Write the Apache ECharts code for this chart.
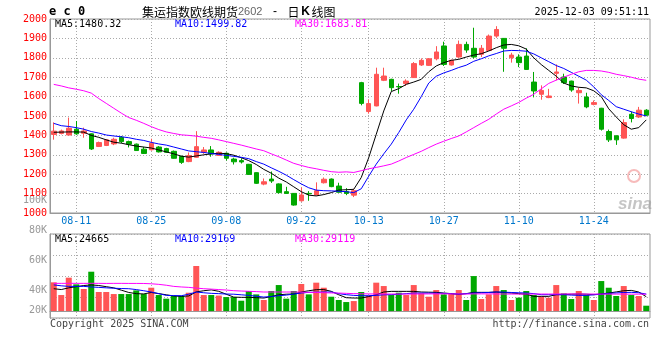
<!DOCTYPE html>
<html><head><meta charset="utf-8">
<script src="https://cdn.jsdelivr.net/npm/echarts@6/dist/echarts.min.js"></script>
<style>html,body{margin:0;padding:0;background:#fff}#c{width:660px;height:360px}</style>
</head><body><div id="c"></div>
<script>
const dates = ['08-06','08-07','08-08','08-11','08-12','08-13','08-14','08-15','08-18','08-19','08-20','08-21','08-22','08-25','08-26','08-27','08-28','08-29',
'09-01','09-02','09-03','09-04','09-05','09-08','09-09','09-10','09-11','09-12','09-15','09-16','09-17','09-18','09-19','09-22','09-23','09-24','09-25','09-26','09-29','09-30',
'10-09','10-10','10-13','10-14','10-15','10-16','10-17','10-20','10-21','10-22','10-23','10-24','10-27','10-28','10-29','10-30','10-31',
'11-03','11-04','11-05','11-06','11-07','11-10','11-11','11-12','11-13','11-14','11-17','11-18','11-19','11-20','11-21','11-24','11-25','11-26','11-27','11-28',
'12-01','12-02','12-03'];
const tickDates = ['08-11','08-25','09-08','09-22','10-13','10-27','11-10','11-24'];

const opens  = [1405,1410,1402,1432,1411,1408,1343,1348,1356,1390,1368,1355,1329,1326,1340,1332,1318,1292,1265,1287,1314,1325,1297,1308,1278,1270,1251,1208,1149,1175,1150,1110,1101,1063,1101,1093,1156,1175,1139,1110,1092,1672,1523,1552,1684,1689,1652,1667,1698,1763,1761,1795,1861,1763,1804,1869,1849,1818,1838,1912,1900,1800,1804,1809,1675,1612,1595,1720,1701,1680,1620,1598,1560,1540,1420,1398,1386,1509,1495,1530];
const closes = [1422,1423,1437,1408,1423,1330,1363,1377,1380,1368,1355,1322,1307,1360,1315,1313,1282,1261,1296,1342,1325,1304,1313,1282,1264,1263,1199,1153,1161,1165,1105,1101,1041,1093,1099,1115,1174,1136,1107,1101,1115,1565,1564,1715,1706,1646,1650,1680,1770,1787,1795,1830,1766,1787,1869,1840,1804,1849,1912,1946,1849,1814,1775,1740,1629,1632,1603,1727,1672,1634,1632,1547,1569,1432,1377,1377,1466,1487,1530,1504];
const lows   = [1378,1405,1400,1403,1388,1325,1340,1345,1350,1360,1338,1320,1305,1322,1312,1310,1280,1253,1262,1285,1305,1290,1295,1270,1250,1255,1197,1150,1143,1155,1100,1098,1038,1058,1063,1092,1152,1133,1105,1092,1082,1555,1512,1550,1680,1629,1615,1655,1696,1758,1758,1787,1758,1760,1800,1826,1796,1804,1836,1903,1728,1775,1752,1738,1596,1584,1592,1684,1665,1625,1564,1540,1555,1425,1366,1351,1383,1467,1490,1500];
const highs  = [1467,1430,1492,1474,1440,1410,1368,1380,1388,1397,1373,1358,1341,1383,1345,1336,1322,1295,1312,1422,1340,1345,1318,1312,1285,1282,1253,1210,1178,1214,1153,1135,1103,1132,1113,1158,1183,1178,1156,1128,1125,1676,1586,1749,1749,1692,1667,1689,1778,1797,1798,1860,1883,1790,1889,1883,1955,1866,1920,1963,1902,1826,1818,1849,1727,1658,1640,1766,1718,1682,1646,1620,1580,1542,1430,1400,1483,1523,1547,1535];

const ma5  = [1416,1417,1418,1418,1417,1400,1390,1377,1365,1360,1352,1345,1340,1335,1325,1315,1305,1293,1288,1294,1300,1305,1308,1306,1298,1285,1270,1250,1225,1205,1180,1160,1135,1110,1092,1088,1095,1105,1118,1120,1122,1183,1286,1406,1526,1626,1641,1663,1675,1689,1728,1758,1775,1787,1792,1804,1814,1821,1835,1852,1866,1869,1862,1845,1800,1765,1735,1705,1670,1655,1648,1645,1630,1600,1537,1495,1455,1432,1440,1480];
const ma10 = [1462,1450,1446,1440,1432,1420,1412,1402,1397,1393,1388,1380,1374,1364,1356,1350,1340,1330,1320,1316,1312,1307,1302,1297,1292,1287,1280,1265,1252,1233,1215,1195,1172,1150,1130,1118,1115,1114,1112,1110,1105,1125,1190,1252,1305,1355,1415,1480,1535,1600,1670,1705,1722,1735,1750,1762,1782,1795,1810,1822,1835,1838,1837,1834,1820,1800,1780,1760,1745,1725,1705,1685,1650,1610,1580,1548,1535,1522,1510,1500];
const ma30 = [1663,1655,1645,1638,1630,1618,1590,1565,1540,1515,1492,1478,1462,1445,1430,1418,1410,1403,1400,1396,1390,1385,1377,1368,1359,1350,1340,1330,1321,1305,1290,1273,1256,1245,1235,1228,1220,1213,1210,1212,1209,1218,1228,1235,1243,1252,1268,1286,1302,1318,1337,1355,1370,1384,1397,1418,1440,1462,1483,1510,1535,1552,1570,1592,1612,1640,1668,1685,1700,1715,1728,1735,1735,1732,1725,1715,1708,1700,1690,1684];

// volume in thousands (K)
const vol = [49.5,27.6,57.5,46,38,67.8,32.8,32.8,29.3,29.3,29.3,35.6,29.3,40.2,27.6,21.3,25.9,25.9,31.6,77.6,27.6,27.6,26.7,24.1,24.1,17.8,34.5,28.7,19.0,34.5,44.8,21.3,34.5,46.6,28.7,48.9,40.2,24.7,19.0,15.5,17.2,32.8,25.9,48.9,43.1,27.6,31.6,27.6,44.8,30.5,24.7,36.2,28.7,30.5,36.2,19.0,60.3,20.7,28.7,43.1,36.2,19.0,23.0,34.5,27.6,24.7,23.0,44.8,30.5,20.7,34.5,27.6,19.0,51.7,40.2,25.9,43.1,27.6,25.9,9.2];
const volMa5  = [38.5,37,40,42,44,45,44,42,40,36,32,30,29.5,32,30,28,26,25.3,26,33,35,36.5,34,29,24,23.6,23.6,23,22.4,25,28,29,29.3,32.8,35,36.8,37,34,28,23,22.4,22.4,25,28,32.8,33.9,33.9,33.9,33.9,32.8,32.5,32.2,31,30,28.5,30,32.2,32.2,32.2,32.8,32,31,30,29,25.3,25.3,25.3,28.2,28.5,29,29.3,29,28.2,29.5,31,33,35,35.6,32.8,24.7];
const volMa10 = [45,43.5,42.5,42.5,42.5,41.5,40.8,40,39.3,38.8,38.5,37,35,32.8,30,27,26.6,26.4,29,32.8,31.5,30.5,30,29.3,29,28,27,25.5,24.1,25,26.4,27.5,29.3,31,32.2,32.5,32.8,32.8,30,28.2,27,26.4,26.5,27,28,28.2,29,30,31,31,31,31,30.5,30,29.3,30,31,31.5,32,32.8,32.5,32,31.5,31,30,28.2,28.2,28.2,28.2,27.5,27,27,28,29,30.5,31.2,32,32.2,31.5,29.2];
const volMa30 = [47.7,47.7,47.8,47.7,47.7,47.8,47.7,47.6,47.7,47.7,47.6,47.6,47.5,47.0,46,44.5,42.5,41.5,40.8,39.5,38.5,37.8,37,36.2,35.1,34.5,34,33.5,32.8,32.8,32.8,32.8,32.8,32.6,32.2,32,31.6,31.2,31,30.5,30,29.8,29.5,29.5,29.3,29.3,29.3,29.3,29.3,29.5,29.5,29.6,29.6,29.5,29.3,29.3,29.5,29.6,29.6,29.5,29.3,29.3,29.2,29.3,29.3,29.3,29.3,29.3,29.5,29.5,29.5,29.3,29.3,29.2,29.2,29.2,29.2,29.1,29.1,29.1];

const priceTicks = { min: 1000, max: 2000, step: 100 };
const volAxisLabels = ['100K','80K','60K','40K','20K'];
const maText = ['MA5:1480.32','MA10:1499.82','MA30:1683.81'];
const volMaText = ['MA5:24665','MA10:29169','MA30:29119'];

const UP = '#ff5555', DOWN = '#00a800';
const MONO = '"DejaVu Sans Mono","Liberation Mono",monospace';
const GRID = '#aaaaaa';
const isTick = (i) => tickDates.indexOf(dates[i]) >= 0;

const candles = dates.map((d, i) => [opens[i], closes[i], lows[i], highs[i]]);
const volData = vol.map((v, i) => ({ value: v, itemStyle: { color: closes[i] >= opens[i] ? UP : DOWN } }));

function lineSeries(data, color, xi, yi) {
  return { type: 'line', data, xAxisIndex: xi, yAxisIndex: yi, symbol: 'none', silent: true, z: 5,
    lineStyle: { color, width: 1 }, itemStyle: { color } };
}
const splitX = { show: true, interval: (i) => isTick(i), alignWithLabel: true, lineStyle: { color: GRID, type: [1, 2], width: 1 } };

const chart = echarts.init(document.getElementById('c'), null, { renderer: 'canvas' });
const txt = (x, y, text, fill, align, extra) => Object.assign({ type: 'text', x, y, silent: true,
  style: Object.assign({ text, fill, font: '10px ' + MONO, textAlign: align || 'left', textVerticalAlign: 'middle' }, extra || {}) });

chart.setOption({
  animation: false,
  backgroundColor: '#fff',
  grid: [
    { left: 50, right: 10, top: 19, height: 194, show: true, borderColor: '#999', borderWidth: 1 },
    { left: 50, right: 10, top: 234, height: 84, show: true, borderColor: '#999', borderWidth: 1 }
  ],
  xAxis: [
    { type: 'category', gridIndex: 0, data: dates, boundaryGap: true,
      axisLine: { show: true, lineStyle: { color: '#999' } }, axisTick: { show: false },
      axisLabel: { interval: (i) => isTick(i), color: '#0077cc', fontFamily: MONO, fontSize: 10, margin: 3 },
      splitLine: splitX },
    { type: 'category', gridIndex: 1, data: dates, boundaryGap: true,
      axisLine: { show: true, lineStyle: { color: '#999' } }, axisTick: { show: false },
      axisLabel: { show: false }, splitLine: splitX }
  ],
  yAxis: [
    { type: 'value', gridIndex: 0, min: priceTicks.min, max: priceTicks.max, interval: priceTicks.step,
      axisLine: { show: true, lineStyle: { color: '#999' } }, axisTick: { show: false },
      axisLabel: { color: '#ff0000', fontFamily: MONO, fontSize: 10, margin: 3, padding: [0, 0, 5, 0], formatter: (v) => String(v) },
      splitLine: { show: true, lineStyle: { color: GRID, type: [1, 2], width: 1 } } },
    { type: 'value', gridIndex: 1, min: -12, max: 132.8, interval: 36.2,
      axisLine: { show: true, lineStyle: { color: '#999' } }, axisTick: { show: false },
      axisLabel: { show: false },
      splitLine: { show: true, lineStyle: { color: GRID, type: [1, 2], width: 1 } } }
  ],
  series: [
    { type: 'candlestick', data: candles, xAxisIndex: 0, yAxisIndex: 0, barWidth: 5, silent: true,
      itemStyle: { color: UP, color0: DOWN, borderColor: UP, borderColor0: DOWN, borderWidth: 1 } },
    lineSeries(ma5, '#000000', 0, 0),
    lineSeries(ma10, '#0000ff', 0, 0),
    lineSeries(ma30, '#ff00ff', 0, 0),
    { type: 'bar', data: volData, xAxisIndex: 1, yAxisIndex: 1, barWidth: 6, silent: true },
    lineSeries(volMa5, '#000000', 1, 1),
    lineSeries(volMa10, '#0000ff', 1, 1),
    lineSeries(volMa30, '#ff00ff', 1, 1)
  ],
  graphic: [
    txt(49, 12, 'e c 0', '#000', 'left', { font: 'bold 12px ' + MONO }),
    { type: 'text', x: 142, y: 12, silent: true, style: {
      text: '{a|集运指数欧线期货}{n|2602}{g| - }{a|日}{k|K}{a|线图}', textVerticalAlign: 'middle',
      rich: {
        a: { fontFamily: '"Noto Sans CJK SC"', fontSize: 12, fill: '#000' },
        n: { fontFamily: '"Liberation Sans"', fontSize: 11, fill: '#666' },
        g: { fontFamily: '"Liberation Sans"', fontSize: 12, fill: '#000', width: 25, align: 'center' },
        k: { fontFamily: '"Liberation Sans"', fontSize: 12, fontWeight: 'bold', fill: '#000', width: 12, align: 'center' }
      } } },
    txt(649, 12, '2025-12-03 09:51:11', '#000', 'right'),
    txt(55, 24, maText[0], '#000'),
    txt(175, 24, maText[1], '#0000ff'),
    txt(295, 24, maText[2], '#ff00ff'),
    txt(55, 239, volMaText[0], '#000'),
    txt(175, 239, volMaText[1], '#0000ff'),
    txt(295, 239, volMaText[2], '#ff00ff'),
    txt(47, 200, volAxisLabels[0], '#999', 'right'),
    txt(47, 230, volAxisLabels[1], '#999', 'right'),
    txt(47, 260, volAxisLabels[2], '#999', 'right'),
    txt(47, 290, volAxisLabels[3], '#999', 'right'),
    txt(47, 310, volAxisLabels[4], '#999', 'right'),
    txt(50, 324, 'Copyright 2025 SINA.COM', '#444'),
    txt(649, 324, 'http://finance.sina.com.cn', '#444', 'right'),
    txt(618, 204, 'sina', 'rgba(150,150,150,0.55)', 'left', { font: 'italic bold 17px "Liberation Sans"' }),
    { type: 'circle', silent: true, shape: { cx: 634, cy: 176, r: 6 }, style: { fill: 'none', stroke: 'rgba(240,120,120,0.5)', lineWidth: 2 } }
  ]
});
</script></body></html>
